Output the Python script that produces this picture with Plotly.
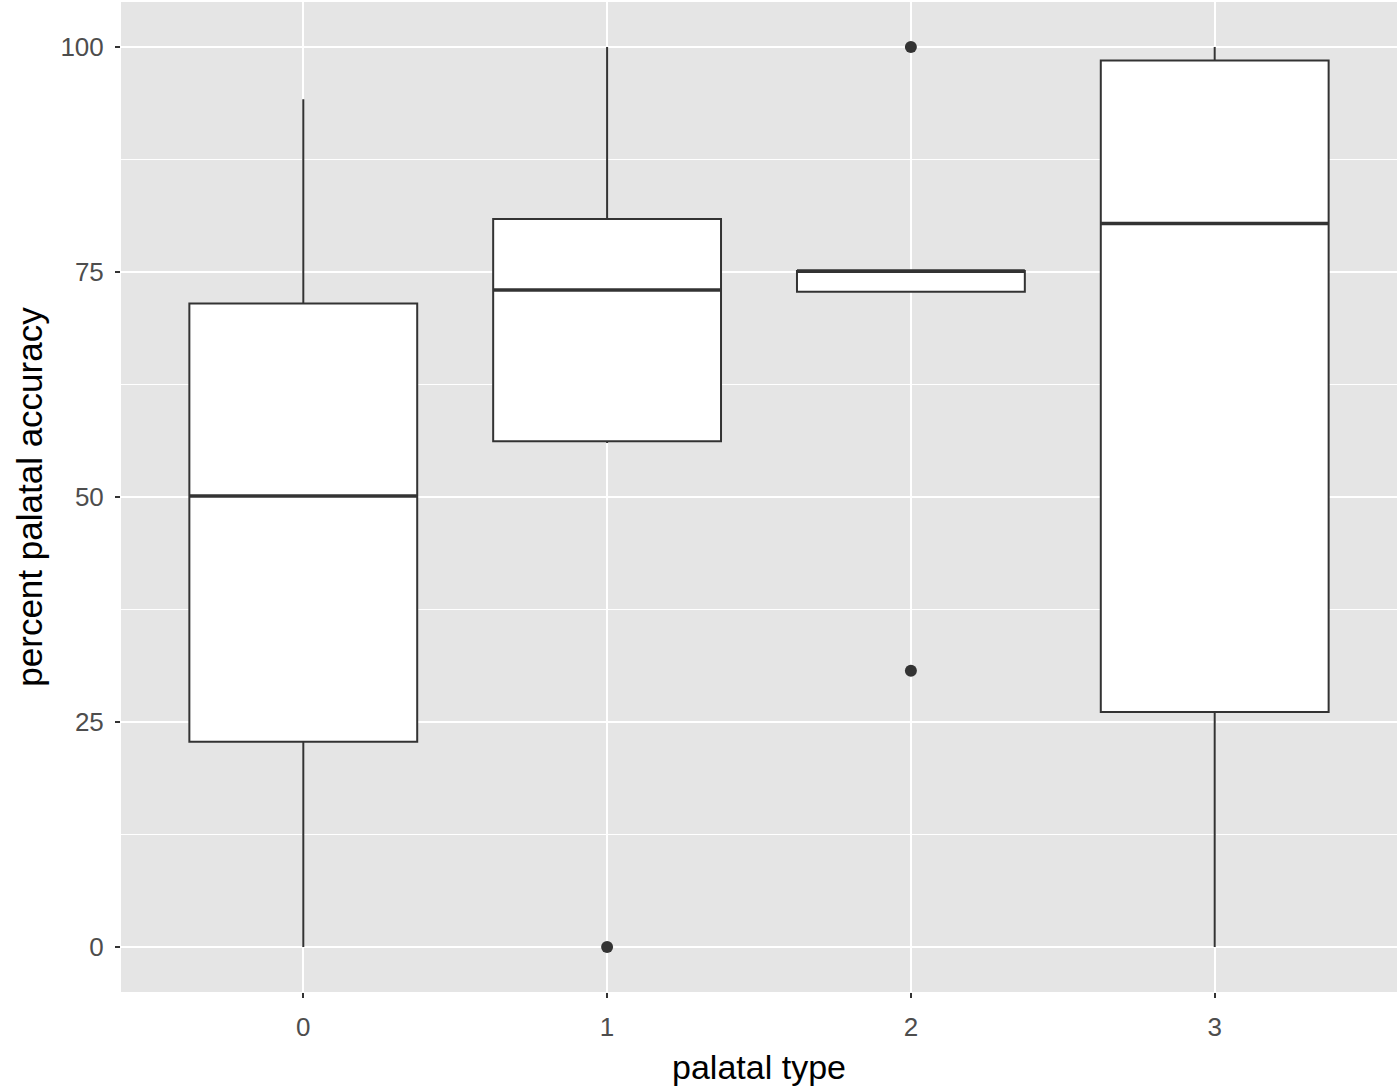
import plotly.graph_objects as go

categories = ["0", "1", "2", "3"]
q1 = [22.8, 56.2, 72.8, 26.1]
median = [50.1, 73.0, 75.1, 80.4]
q3 = [71.5, 80.9, 75.1, 98.5]
lower_whisker = [0.0, 56.0, 72.8, 0.0]
upper_whisker = [94.2, 100.0, 75.1, 100.0]
outlier_x = ["1", "2", "2"]
outlier_y = [0.0, 100.0, 30.7]

y_ticks = [0, 25, 50, 75, 100]
box_width = 0.75
line_col = "#333333"

fig = go.Figure()
fig.add_trace(go.Box(
    x=categories, q1=q1, median=median, q3=q3,
    lowerfence=lower_whisker, upperfence=upper_whisker,
    fillcolor="white", line=dict(color=line_col, width=2),
    whiskerwidth=0, width=box_width, boxpoints=False, showlegend=False,
))

# thicker median lines (ggplot fatten)
mx, my = [], []
for i, m in enumerate(median):
    mx += [i - box_width / 2, i + box_width / 2, None]
    my += [m, m, None]
fig.add_trace(go.Scatter(x=mx, y=my, mode="lines", line=dict(color=line_col, width=3.5),
                         showlegend=False, hoverinfo="skip"))

idx = {c: i for i, c in enumerate(categories)}
fig.add_trace(go.Scatter(x=[idx[c] for c in outlier_x], y=outlier_y, mode="markers",
                         marker=dict(color=line_col, size=12), showlegend=False))

fig.update_layout(
    width=1400, height=1088,
    margin=dict(l=121, r=3, t=2, b=96),
    paper_bgcolor="white", plot_bgcolor="#E5E5E5",
    font=dict(family="Liberation Sans, Arial, sans-serif"),
    showlegend=False,
)
fig.update_xaxes(
    type="linear", range=[-0.6, 3.6],
    tickvals=list(range(len(categories))), ticktext=categories,
    showgrid=True, gridcolor="white", gridwidth=2,
    ticks="outside", ticklen=5, tickwidth=2, tickcolor=line_col,
    ticklabelstandoff=7,
    tickfont=dict(size=26, color="#4D4D4D"),
    title=dict(text="palatal type", font=dict(size=34, color="black"), standoff=13),
    zeroline=False, showline=False,
)
fig.update_yaxes(
    range=[-5, 105], tickvals=y_ticks,
    showgrid=True, gridcolor="white", gridwidth=2,
    minor=dict(tickvals=[12.5, 37.5, 62.5, 87.5], showgrid=True, gridcolor="white", gridwidth=1, ticks=""),
    ticks="outside", ticklen=5, tickwidth=2, tickcolor=line_col,
    ticklabelstandoff=6,
    tickfont=dict(size=26, color="#4D4D4D"),
    title=dict(text="percent palatal accuracy", font=dict(size=35, color="black"), standoff=7),
    zeroline=False, showline=False,
)

fig.write_html("out.html", config={"displayModeBar": False},
               post_script="document.body.style.margin='0';")
